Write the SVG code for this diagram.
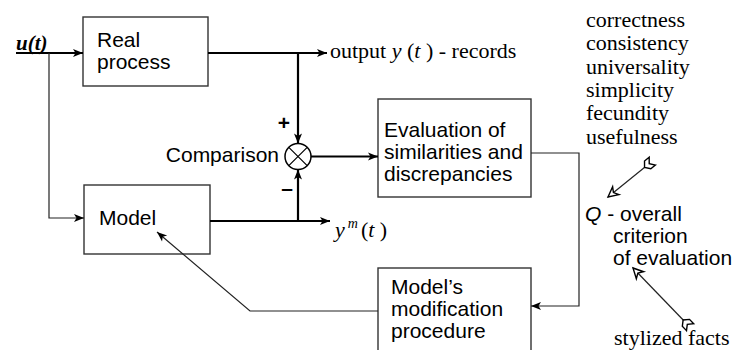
<svg xmlns="http://www.w3.org/2000/svg" width="738" height="350" viewBox="0 0 738 350">
<style>
.box{fill:#fff;stroke:#333;stroke-width:1.4}
.sans{font-family:"Liberation Sans",Arial,sans-serif;font-size:21px;fill:#000}
.serif{font-family:"Liberation Serif","Times New Roman",serif;font-size:22px;fill:#000}
.thick{fill:none;stroke:#000;stroke-width:2.2}
.thin{fill:none;stroke:#222;stroke-width:1.2}
</style>
<defs>
<marker id="ah" markerUnits="userSpaceOnUse" markerWidth="12" markerHeight="10" refX="10" refY="4" orient="auto" overflow="visible">
<path d="M0,0 L10,4 L0,8 L2.5,4 Z" fill="#000"/>
</marker>
<marker id="hollow" markerUnits="userSpaceOnUse" markerWidth="14" markerHeight="12" refX="11" refY="5" orient="auto" overflow="visible">
<path d="M1,0 L11,5 L1,10 L4,5 Z" fill="#fff" stroke="#000" stroke-width="1.4"/>
</marker>
<marker id="feather" markerUnits="userSpaceOnUse" markerWidth="14" markerHeight="12" refX="1" refY="5" orient="auto" overflow="visible">
<path d="M-2,0 L4,0 L8,5 L4,10 L-2,10 L2,5 Z" fill="#fff" stroke="#000" stroke-width="1.4"/>
</marker>
</defs>

<g id="input">
<text x="16" y="50" style="font-family:'Liberation Serif','Times New Roman',serif;font-size:21px;font-weight:bold;font-style:italic">u(t)</text>
</g>

<g id="real-process">
<rect class="box" x="83" y="17" width="125" height="69"/>
<text class="sans" x="97" y="47">Real</text>
<text class="sans" x="97" y="69">process</text>
</g>

<g id="model">
<rect class="box" x="84" y="185" width="126" height="69"/>
<text class="sans" x="99" y="225">Model</text>
</g>

<g id="comparator">
<circle cx="298" cy="156.5" r="13" fill="#fff" stroke="#000" stroke-width="1.5"/>
<path d="M288.8,147.3 L307.2,165.7 M307.2,147.3 L288.8,165.7" stroke="#000" stroke-width="1.2"/>
<text class="sans" x="279" y="162" text-anchor="end">Comparison</text>
<text class="sans" x="284" y="130" text-anchor="middle" font-weight="bold" font-size="19">+</text>
<text class="sans" x="287" y="195" text-anchor="middle" font-weight="bold" font-size="19">–</text>
</g>

<g id="output-label">
<text class="serif" x="330" y="58" xml:space="preserve">output <tspan font-style="italic">y</tspan> (<tspan font-style="italic">t</tspan> ) - records</text>
</g>

<g id="model-output-label">
<text class="serif" x="335" y="237" xml:space="preserve"><tspan font-style="italic">y</tspan><tspan font-style="italic" font-size="14" dy="-9" dx="3">m</tspan><tspan dy="9" dx="3">(</tspan><tspan font-style="italic">t</tspan> )</text>
</g>

<g id="evaluation">
<rect class="box" x="378" y="99" width="153" height="98"/>
<text class="sans" x="384" y="137">Evaluation of</text>
<text class="sans" x="384" y="159">similarities and</text>
<text class="sans" x="384" y="181">discrepancies</text>
</g>

<g id="modification">
<rect class="box" x="378" y="268" width="153" height="100"/>
<text class="sans" x="391" y="294">Model’s</text>
<text class="sans" x="391" y="316">modification</text>
<text class="sans" x="391" y="338">procedure</text>
</g>

<g id="criteria">
<text class="serif" x="586" y="27">correctness</text>
<text class="serif" x="586" y="50">consistency</text>
<text class="serif" x="586" y="74">universality</text>
<text class="serif" x="586" y="97">simplicity</text>
<text class="serif" x="586" y="120">fecundity</text>
<text class="serif" x="586" y="144">usefulness</text>
</g>

<g id="q-criterion">
<text class="sans" x="585" y="221"><tspan font-style="italic">Q</tspan> - overall</text>
<text class="sans" x="613" y="243">criterion</text>
<text class="sans" x="613" y="265">of evaluation</text>
</g>

<g id="stylized-facts">
<text class="serif" x="614" y="345">stylized facts</text>
</g>

<g id="connectors">
<line class="thick" x1="16" y1="53" x2="83" y2="53" marker-end="url(#ah)"/>
<polyline class="thin" points="49,53 49,218 84,218" marker-end="url(#ah)"/>
<line class="thick" x1="208" y1="53" x2="327" y2="53" marker-end="url(#ah)"/>
<line class="thick" x1="298" y1="53" x2="298" y2="143.5" marker-end="url(#ah)"/>
<line class="thick" x1="210" y1="221" x2="330" y2="221" marker-end="url(#ah)"/>
<line class="thick" x1="298" y1="221" x2="298" y2="169.5" marker-end="url(#ah)"/>
<line class="thick" x1="311" y1="156.5" x2="378" y2="156.5" marker-end="url(#ah)"/>
<polyline class="thin" points="531,153 579,153 579,306 531,306" marker-end="url(#ah)"/>
<polyline class="thin" points="378,311 250,311 157,232" marker-end="url(#ah)"/>
<line class="thin" x1="650" y1="163" x2="608" y2="197" stroke-width="1.6" marker-start="url(#feather)" marker-end="url(#hollow)"/>
<line class="thin" x1="688" y1="325" x2="633" y2="268" stroke-width="1.6" marker-start="url(#feather)" marker-end="url(#hollow)"/>
</g>
</svg>
